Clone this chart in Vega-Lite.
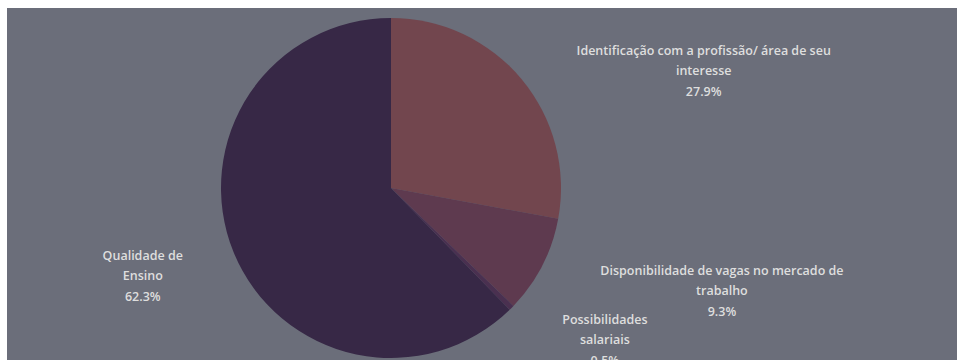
{
  "$schema": "https://vega.github.io/schema/vega-lite/v6.json",
  "width": 950,
  "height": 352,
  "autosize": {"type": "none"},
  "padding": {"left": 7, "top": 8, "right": 0, "bottom": 0},
  "background": "white",
  "view": {"fill": "#6b6e7a", "stroke": null},
  "data": {
    "values": [
      {"ordem": 1, "motivo": "Identificação com a profissão/ área de seu interesse", "rotulo": "Identificação com a profissão/ área de seu|interesse|27.9%", "pct": 27.9},
      {"ordem": 2, "motivo": "Disponibilidade de vagas no mercado de trabalho", "rotulo": "Disponibilidade de vagas no mercado de|trabalho|9.3%", "pct": 9.3},
      {"ordem": 3, "motivo": "Possibilidades salariais", "rotulo": "Possibilidades|salariais|0.5%", "pct": 0.5},
      {"ordem": 4, "motivo": "Qualidade de Ensino", "rotulo": "Qualidade de|Ensino|62.3%", "pct": 62.3}
    ]
  },
  "encoding": {
    "theta": {"field": "pct", "type": "quantitative", "stack": true},
    "order": {"field": "ordem", "type": "quantitative"}
  },
  "layer": [
    {
      "mark": {"type": "arc", "radius": 170, "x": 384, "y": 180, "strokeWidth": 0},
      "encoding": {
        "color": {
          "field": "motivo",
          "type": "nominal",
          "legend": null,
          "scale": {
            "domain": ["Identificação com a profissão/ área de seu interesse", "Disponibilidade de vagas no mercado de trabalho", "Possibilidades salariais", "Qualidade de Ensino"],
            "range": ["#72464e", "#5e3a4f", "#4a3050", "#372846"]
          }
        }
      }
    },
    {
      "mark": {"type": "text", "radius": 200, "x": 384, "y": 180, "dx": 159, "dy": -9.5, "lineBreak": "|", "font": "Open Sans", "fontWeight": 600, "fontSize": 12.5, "lineHeight": 20.5, "color": "#dedede", "align": "center", "baseline": "middle"},
      "encoding": {"text": {"condition": {"test": "datum.ordem == 1", "field": "rotulo"}, "value": ""}}
    },
    {
      "mark": {"type": "text", "radius": 200, "x": 384, "y": 180, "dx": 153, "dy": -8.5, "lineBreak": "|", "font": "Open Sans", "fontWeight": 600, "fontSize": 12.5, "lineHeight": 20.5, "color": "#dedede", "align": "center", "baseline": "middle"},
      "encoding": {"text": {"condition": {"test": "datum.ordem == 2", "field": "rotulo"}, "value": ""}}
    },
    {
      "mark": {"type": "text", "radius": 200, "x": 384, "y": 180, "dx": 72, "dy": -9, "lineBreak": "|", "font": "Open Sans", "fontWeight": 600, "fontSize": 12.5, "lineHeight": 20.5, "color": "#dedede", "align": "center", "baseline": "middle"},
      "encoding": {"text": {"condition": {"test": "datum.ordem == 3", "field": "rotulo"}, "value": ""}}
    },
    {
      "mark": {"type": "text", "radius": 200, "x": 384, "y": 180, "dx": -63, "dy": -7.5, "lineBreak": "|", "font": "Open Sans", "fontWeight": 600, "fontSize": 12.5, "lineHeight": 20.5, "color": "#dedede", "align": "center", "baseline": "middle"},
      "encoding": {"text": {"condition": {"test": "datum.ordem == 4", "field": "rotulo"}, "value": ""}}
    }
  ]
}
